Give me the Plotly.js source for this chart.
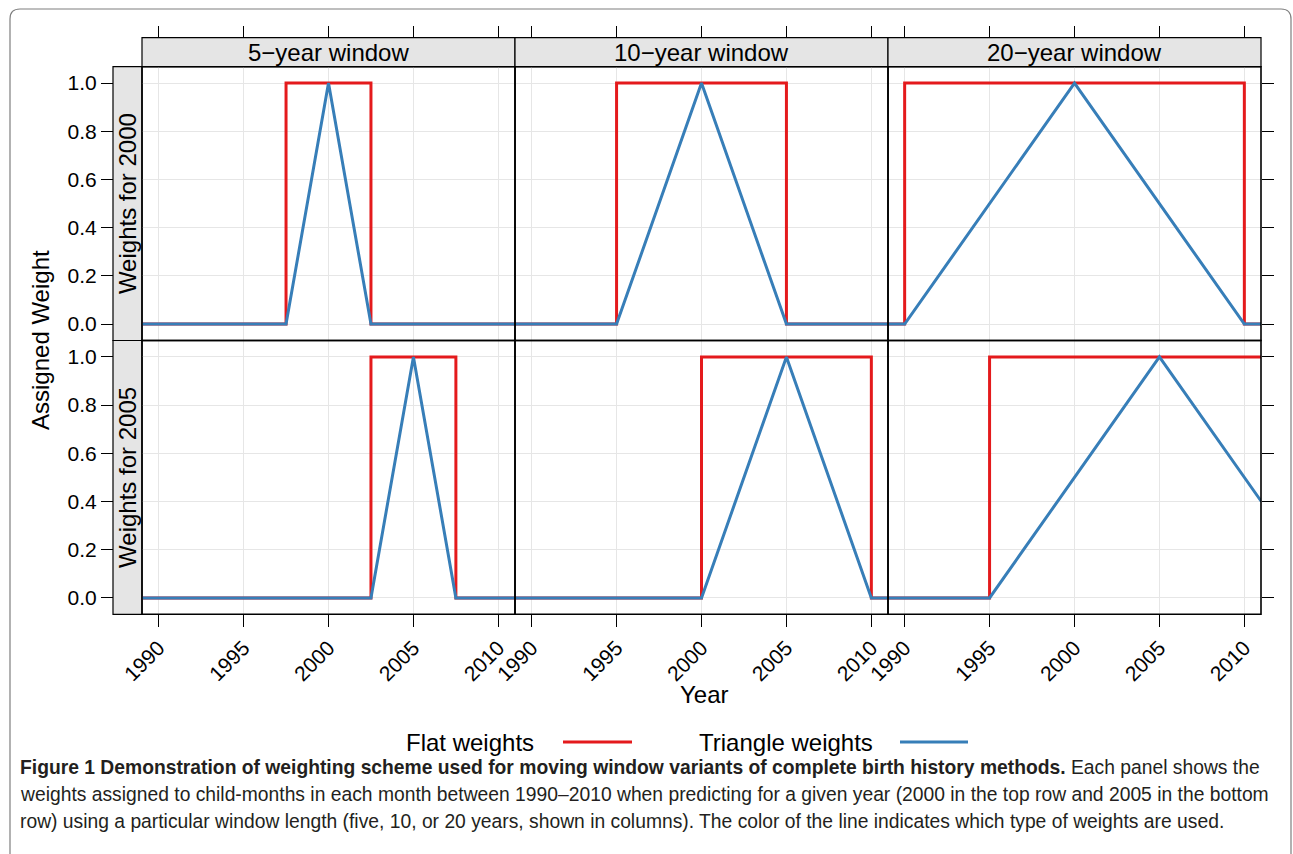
<!DOCTYPE html>
<html>
<head>
<meta charset="utf-8">
<script src="https://cdn.plot.ly/plotly-3.0.1.min.js"></script>
<style>
  html, body { margin: 0; padding: 0; background: #ffffff; }
  #chart { width: 1293px; height: 854px; }
</style>
</head>
<body>
<div id="chart"></div>
<script>
// Column strip labels (window length) and row strip labels (target year)
const windowLabels = ['5\u2212year window', '10\u2212year window', '20\u2212year window'];
const rowLabels = ['Weights for 2000', 'Weights for 2005'];

// Axis ticks
const yearTicks = [1990, 1995, 2000, 2005, 2010];
const weightTicks = [0, 0.2, 0.4, 0.6, 0.8, 1.0];
const weightTickText = ['0.0', '0.2', '0.4', '0.6', '0.8', '1.0'];

// Flat weights: breakpoints per panel (row 2000: 5, 10, 20 yr; row 2005: 5, 10, 20 yr)
const flatX = [
  [1989, 1997.5, 1997.5, 2002.5, 2002.5, 2011],
  [1989, 1995, 1995, 2005, 2005, 2011],
  [1989, 1990, 1990, 2010, 2010, 2011],
  [1989, 2002.5, 2002.5, 2007.5, 2007.5, 2011],
  [1989, 2000, 2000, 2010, 2010, 2011],
  [1989, 1995, 1995, 2011]
];
const flatY = [
  [0, 0, 1, 1, 0, 0],
  [0, 0, 1, 1, 0, 0],
  [0, 0, 1, 1, 0, 0],
  [0, 0, 1, 1, 0, 0],
  [0, 0, 1, 1, 0, 0],
  [0, 0, 1, 1]
];

// Triangle weights: breakpoints per panel
const triX = [
  [1989, 1997.5, 2000, 2002.5, 2011],
  [1989, 1995, 2000, 2005, 2011],
  [1989, 1990, 2000, 2010, 2011],
  [1989, 2002.5, 2005, 2007.5, 2011],
  [1989, 2000, 2005, 2010, 2011],
  [1989, 1995, 2005, 2011]
];
const triY = [
  [0, 0, 1, 0, 0],
  [0, 0, 1, 0, 0],
  [0, 0, 1, 0, 0],
  [0, 0, 1, 0, 0],
  [0, 0, 1, 0, 0],
  [0, 0, 1, 0.4]
];

const seriesNames = ['Flat weights', 'Triangle weights'];
const seriesColors = ['#E41A1C', '#377EB8'];

// ---- page geometry (pixels) ----
const W = 1293, H = 854;
const px = x => x / W;
const py = y => 1 - y / H;

const colL = [142, 515, 888], colR = [515, 888, 1261];
const rowT = [66.7, 340.5], rowB = [340.5, 614.3];
const stripTop = 37.7;
const rowStripL = 113;

const FONT = 'Liberation Sans, Arial, Helvetica, sans-serif';
const xRange = [1989.02, 2010.98];
const yRange = [-0.068, 1.068];

const traces = [];
const layout = {
  width: W, height: H,
  margin: {l: 0, r: 0, t: 0, b: 0},
  paper_bgcolor: '#ffffff',
  plot_bgcolor: '#ffffff',
  showlegend: false,
  font: {family: FONT, color: '#000000', size: 21},
  shapes: [],
  annotations: []
};

for (let r = 0; r < 2; r++) {
  for (let c = 0; c < 3; c++) {
    const k = r * 3 + c + 1;
    const xa = 'x' + (k === 1 ? '' : k);
    const ya = 'y' + (k === 1 ? '' : k);

    traces.push({
      type: 'scatter', mode: 'lines', xaxis: xa, yaxis: ya,
      x: flatX[k - 1], y: flatY[k - 1], name: seriesNames[0],
      line: {color: seriesColors[0], width: 3}, hoverinfo: 'skip'
    });
    traces.push({
      type: 'scatter', mode: 'lines', xaxis: xa, yaxis: ya,
      x: triX[k - 1], y: triY[k - 1], name: seriesNames[1],
      line: {color: seriesColors[1], width: 3}, hoverinfo: 'skip'
    });

    const xaxis = {
      domain: [px(colL[c]), px(colR[c])],
      range: xRange, fixedrange: true,
      tickvals: yearTicks,
      showgrid: true, gridcolor: '#e6e6e6', gridwidth: 1,
      zeroline: false, showline: false,
      ticks: 'outside', ticklen: 12, tickcolor: '#000000', tickwidth: 1
    };
    if (r === 0) {
      // top row: tick marks above the column strips, no labels
      Object.assign(xaxis, {side: 'top', anchor: 'free', position: py(stripTop), showticklabels: false});
    } else {
      Object.assign(xaxis, {side: 'bottom', anchor: ya, showticklabels: true, tickangle: -45,
        tickfont: {family: FONT, size: 21, color: '#000000'}});
    }

    const yaxis = {
      domain: [py(rowB[r]), py(rowT[r])],
      range: yRange, fixedrange: true,
      tickvals: weightTicks, ticktext: weightTickText,
      showgrid: true, gridcolor: '#e6e6e6', gridwidth: 1,
      zeroline: false, showline: false,
      ticks: '', showticklabels: false
    };
    if (c === 0) {
      Object.assign(yaxis, {side: 'left', anchor: 'free', position: px(rowStripL),
        ticks: 'outside', ticklen: 12, tickcolor: '#000000', tickwidth: 1,
        showticklabels: true, tickfont: {family: FONT, size: 21, color: '#000000'}});
    } else if (c === 2) {
      Object.assign(yaxis, {side: 'right', anchor: xa,
        ticks: 'outside', ticklen: 12, tickcolor: '#000000', tickwidth: 1});
    } else {
      yaxis.anchor = xa;
    }

    layout['xaxis' + (k === 1 ? '' : k)] = xaxis;
    layout['yaxis' + (k === 1 ? '' : k)] = yaxis;

    // panel frame
    layout.shapes.push({
      type: 'rect', xref: 'paper', yref: 'paper', layer: 'above',
      x0: px(colL[c]), x1: px(colR[c]), y0: py(rowB[r]), y1: py(rowT[r]),
      line: {color: '#000000', width: 1.6}, fillcolor: 'rgba(0,0,0,0)'
    });
  }
}

// column strips
for (let c = 0; c < 3; c++) {
  layout.shapes.push({
    type: 'rect', xref: 'paper', yref: 'paper', layer: 'below',
    x0: px(colL[c]), x1: px(colR[c]), y0: py(rowT[0]), y1: py(stripTop),
    line: {color: '#000000', width: 1.2}, fillcolor: '#e5e5e5'
  });
  layout.annotations.push({
    xref: 'paper', yref: 'paper', x: px((colL[c] + colR[c]) / 2), y: py((stripTop + rowT[0]) / 2),
    text: windowLabels[c], showarrow: false, xanchor: 'center', yanchor: 'middle',
    font: {family: FONT, size: 24, color: '#000000'}
  });
}

// row strips
for (let r = 0; r < 2; r++) {
  layout.shapes.push({
    type: 'rect', xref: 'paper', yref: 'paper', layer: 'below',
    x0: px(rowStripL), x1: px(colL[0]), y0: py(rowB[r]), y1: py(rowT[r]),
    line: {color: '#000000', width: 1.2}, fillcolor: '#e5e5e5'
  });
  layout.annotations.push({
    xref: 'paper', yref: 'paper', x: px((rowStripL + colL[0]) / 2), y: py((rowT[r] + rowB[r]) / 2),
    text: rowLabels[r], showarrow: false, textangle: -90, xanchor: 'center', yanchor: 'middle',
    font: {family: FONT, size: 24, color: '#000000'}
  });
}

// axis titles
layout.annotations.push({
  xref: 'paper', yref: 'paper', x: px(704), y: py(694), text: 'Year', showarrow: false,
  xanchor: 'center', yanchor: 'middle', font: {family: FONT, size: 24, color: '#000000'}
});
layout.annotations.push({
  xref: 'paper', yref: 'paper', x: px(40), y: py(340), text: 'Assigned Weight', showarrow: false,
  textangle: -90, xanchor: 'center', yanchor: 'middle', font: {family: FONT, size: 24, color: '#000000'}
});

// key below the panels: label followed by a line sample
const keyText = [{x: 536, lx0: 563, lx1: 632}, {x: 875, lx0: 900, lx1: 968}];
for (let i = 0; i < 2; i++) {
  layout.annotations.push({
    xref: 'paper', yref: 'paper', x: px(keyText[i].x), y: py(742), text: seriesNames[i], showarrow: false,
    xanchor: 'right', yanchor: 'middle', font: {family: FONT, size: 24, color: '#000000'}
  });
  layout.shapes.push({
    type: 'line', xref: 'paper', yref: 'paper',
    x0: px(keyText[i].lx0), x1: px(keyText[i].lx1), y0: py(742), y1: py(742),
    line: {color: seriesColors[i], width: 3}
  });
}

// figure frame with rounded top corners
const fr = {l: 10, r: 1291, t: 9, rad: 10};
layout.shapes.push({
  type: 'path', xref: 'paper', yref: 'paper', layer: 'above',
  path: `M ${px(fr.l)},${py(H + 5)} L ${px(fr.l)},${py(fr.t + fr.rad)} Q ${px(fr.l)},${py(fr.t)} ${px(fr.l + fr.rad)},${py(fr.t)} ` +
        `L ${px(fr.r - fr.rad)},${py(fr.t)} Q ${px(fr.r)},${py(fr.t)} ${px(fr.r)},${py(fr.t + fr.rad)} L ${px(fr.r)},${py(H + 5)}`,
  line: {color: '#7f7f7f', width: 1.2}
});

// caption
const CAP = 'Liberation Sans, Arial, sans-serif';
const captionLines = [
  '<b>Figure 1 Demonstration of weighting scheme used for moving window variants of complete birth history methods.</b> Each panel shows the',
  'weights assigned to child-months in each month between 1990\u20132010 when predicting for a given year (2000 in the top row and 2005 in the bottom',
  'row) using a particular window length (five, 10, or 20 years, shown in columns). The color of the line indicates which type of weights are used.'
];
const captionY = [767, 794, 821];
for (let i = 0; i < captionLines.length; i++) {
  layout.annotations.push({
    xref: 'paper', yref: 'paper', x: px(18), y: py(captionY[i]), text: captionLines[i], showarrow: false,
    xanchor: 'left', yanchor: 'middle', align: 'left',
    font: {family: CAP, size: 19.3, color: '#231f20'}
  });
}

Plotly.newPlot('chart', traces, layout, {staticPlot: true, displayModeBar: false});
</script>
</body>
</html>
